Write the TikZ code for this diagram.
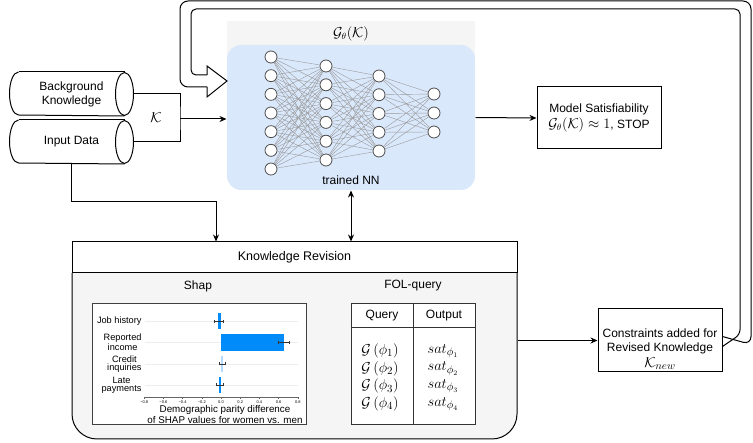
\documentclass[tikz,border=0pt]{standalone}
\usepackage[no-math]{fontspec}
\setmainfont{Liberation Sans}
\usetikzlibrary{arrows.meta,calc}
\definecolor{nnblue}{HTML}{DAE8FC}
\definecolor{lgray}{HTML}{F5F5F5}
\definecolor{shapblue}{HTML}{008BFB}
\definecolor{shaplight}{HTML}{B5DAFF}
\begin{document}
\begin{tikzpicture}[x=1pt,y=-1pt,line width=1pt,
  >={Stealth[length=7pt,width=6pt]},
  every node/.style={font=\fontsize{12}{14}\selectfont, inner sep=0pt},
  box/.style={draw, fill=white, rectangle},
  neuron/.style={circle, draw=black!70, fill=white, minimum size=12pt, line width=0.8pt},
  syn/.style={draw=black!40, line width=0.4pt},
  mathbig/.style={font=\fontsize{13.5}{15}\selectfont},
  tabmath/.style={font=\fontsize{15}{15}\selectfont},
  chartlab/.style={font=\fontsize{9.2}{7.8}\selectfont, align=center, anchor=east},
  ticklab/.style={font=\fontsize{4}{4}\selectfont},
  errbar/.style={draw=black!80, line width=0.6pt}]
\useasboundingbox (0,0) rectangle (753,443);

% ---- data cylinders
\node[minimum width=123pt, minimum height=43pt, align=center] (bk) at (71.5,94) {Background\\Knowledge};
\node[minimum width=123pt, minimum height=43pt, align=center] (id) at (71.5,142) {Input Data};
\foreach \c in {bk,id}{
  \draw ([xshift=9pt]\c.north west) arc[start angle=270,end angle=90,x radius=9,y radius=21.5] -- ([xshift=-9pt]\c.south east);
  \draw ([xshift=9pt]\c.north west) -- ([xshift=-9pt]\c.north east);
  \draw ([xshift=-9pt]\c.east) ellipse[x radius=9,y radius=21.5];
}

% ---- NN group
\node[fill=lgray, minimum width=248pt, minimum height=90pt, anchor=north] (nngrp) at (351,21) {};
\node[fill=nnblue, rounded corners=14pt, minimum width=248pt, minimum height=145pt] (nnbox) at (351,117.5) {};
\node[mathbig] (nntitle) at (351,34) {$\mathcal{G}_\theta(\mathcal{K})$};
\node (nnlab) at (351,180) {trained NN};

\foreach \i in {0,...,6} \node[neuron] (a\i) at (271,57+18.67*\i) {};
\foreach \i in {0,...,5} \node[neuron] (b\i) at (326,66+18.8*\i) {};
\foreach \i in {0,...,4} \node[neuron] (c\i) at (379,76+18.75*\i) {};
\foreach \i in {0,...,2} \node[neuron] (d\i) at (434,94+19*\i) {};
\foreach \i in {0,...,6}{\foreach \j in {0,...,5}{\draw[syn] (a\i) -- (b\j);}}
\foreach \i in {0,...,5}{\foreach \j in {0,...,4}{\draw[syn] (b\i) -- (c\j);}}
\foreach \i in {0,...,4}{\foreach \j in {0,...,2}{\draw[syn] (c\i) -- (d\j);}}

% ---- K connector
\coordinate (kj) at (180,119);
\draw (bk.east) -| (kj) |- (id.east);
\draw[->] (kj) -- (nnbox.west |- kj);
\node[font=\fontsize{15}{15}\selectfont] (klab) at (156,118) {$\mathcal{K}$};

% ---- model satisfiability
\node[box, minimum width=124pt, minimum height=62pt, align=center, font=\fontsize{12}{16}\selectfont] (ms) at (599,118)
  {Model Satisfiability\\{\fontsize{13.5}{15}\selectfont$\mathcal{G}_\theta(\mathcal{K})\approx 1$}, STOP};
\draw[->] (nnbox.east) -- (ms.west);

% ---- Knowledge revision
\draw[fill=lgray] (72,273) -- (72,414) arc[start angle=180,end angle=90,radius=25] -- (492,439)
   arc[start angle=90,end angle=0,radius=25] -- (517,273);
\node[box, minimum width=445pt, minimum height=31pt, font=\fontsize{12.5}{14}\selectfont] (kr) at (294.5,257.5) {Knowledge Revision};
\node[minimum width=445pt, minimum height=166pt] (krb) at (294.5,356) {};
\node (shapt) at (198,286) {Shap};
\node (folt) at (413,286) {FOL-query};

% input data -> KR
\coordinate (bend) at (216,202);
\draw[->] (id.south) |- (bend) -- (bend |- kr.north);
\draw[<->] (nnbox.south) -- (nnbox.south |- kr.north);

% ---- Shap chart
\node[draw=black!75, fill=white, minimum width=214pt, minimum height=121pt] (shapimg) at (199,364.5) {};
\foreach \y in {321.5,342.5,364,385} \draw[black!7, line width=0.6pt] (145,\y) -- (298,\y);
\fill[shapblue] (217.6,313.5) rectangle (221,329.5);
\fill[shapblue] (221,334) rectangle (284.4,351);
\fill[shaplight] (221,356) rectangle (223.4,372);
\fill[shapblue] (218.6,377) rectangle (221,393);
\draw[errbar] (214.3,321.5) -- (222.9,321.5) (214.3,320) -- (214.3,323) (222.9,320) -- (222.9,323);
\draw[errbar] (278.6,342.5) -- (289.2,342.5) (278.6,341) -- (278.6,344) (289.2,341) -- (289.2,344);
\draw[errbar] (219,364) -- (225.3,364) (219,362.5) -- (219,365.5) (225.3,362.5) -- (225.3,365.5);
\draw[errbar] (216.2,385) -- (222.9,385) (216.2,383.5) -- (216.2,386.5) (222.9,383.5) -- (222.9,386.5);
\draw[black!60, line width=0.5pt] (144.2,397) -- (297.8,397);
\foreach \v/\t [count=\k] in {-0.8/−0.8,-0.6/−0.6,-0.4/−0.4,-0.2/−0.2,0/0.0,0.2/0.2,0.4/0.4,0.6/0.6,0.8/0.8}{
  \draw[black!60, line width=0.4pt] (221+96*\v,397) -- (221+96*\v,399);
  \node[ticklab] (tk\k) at (221+96*\v,402.5) {\t};
}
\node[chartlab] (sl1) at (142,321.5) {Job history};
\node[chartlab] (sl2) at (142,342.5) {Reported\\income};
\node[chartlab] (sl3) at (142,364) {Credit\\inquiries};
\node[chartlab] (sl4) at (142,385.5) {Late\\payments};
\node[font=\fontsize{9.8}{8.5}\selectfont, align=center] (xlab) at (225,414.5) {Demographic parity difference\\of SHAP values for women vs. men};

% ---- FOL table
\node[draw=black!80, fill=white, minimum width=124pt, minimum height=121pt] (tbl) at (413,364.5) {};
\draw[black!80] (tbl.north) -- (tbl.south);
\draw[black!80] ($(tbl.north west)+(0,24)$) -- ($(tbl.north east)+(0,24)$);
\node (qh) at (382,316) {Query};
\node (oh) at (444,316) {Output};
\foreach \i/\y in {1/351,2/368.7,3/386.3,4/404}{
  \node[tabmath] (q\i) at (380,\y) {$\mathcal{G}\left(\phi_\i\right)$};
  \node[tabmath] (o\i) at (443,\y) {$sat_{\phi_\i}$};
}

% ---- constraints box
\node[box, minimum width=124pt, minimum height=63pt] (cb) at (660,340.5) {};
\node (ct1) at (660,333) {Constraints added for};
\node (ct2) at (660,348) {Revised Knowledge};
\node[font=\fontsize{15.5}{16}\selectfont] (ct3) at (660,363.5) {$\mathcal{K}_{new}$};
\draw[->] (krb.east |- cb.west) -- (cb.west);

% ---- feedback flex arrow
\draw[rounded corners=5pt] ([yshift=-6pt]cb.east) -- (740,334.5) -- (740,9) -- (191,9) -- (191,75) -- (207,75);
\draw (207,75) -- (207,66) -- (227,81) -- (207,97) -- (207,87);
\draw[rounded corners=8pt] (207,87) -- (180,87) -- (180,1) -- (751,1) -- (751,344.5) -- ([yshift=4pt]cb.east);
\end{tikzpicture}
\end{document}
